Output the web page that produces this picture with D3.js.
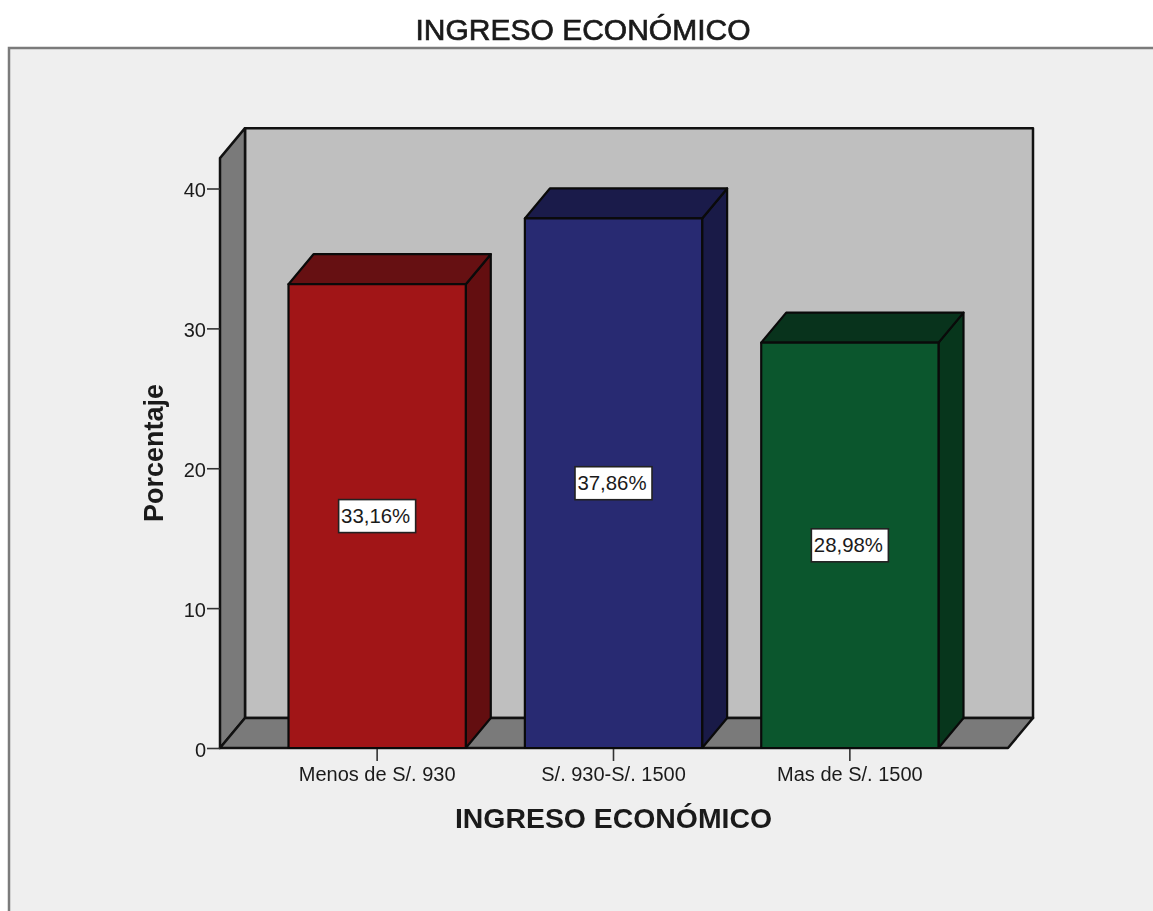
<!DOCTYPE html>
<html>
<head>
<meta charset="utf-8">
<script src="https://cdn.jsdelivr.net/npm/d3@7"></script>
<style>
  html, body { margin: 0; padding: 0; background: #fff; overflow: hidden; }
  svg { display: block; filter: blur(0.45px); }
  text { font-family: "Liberation Sans", Arial, sans-serif; fill: #1a1a1a; }
</style>
</head>
<body>
<svg id="chart" width="1153" height="911"></svg>
<script>
// Values
var categories = ['Menos de S/. 930', 'S/. 930-S/. 1500', 'Mas de S/. 1500'];
var percentages = [33.16, 37.86, 28.98];
var frontColors = ['#a11517', '#282a72', '#0b562d'];
var sideColors = ['#630e10', '#191a47', '#07361c'];
var topColors = ['#661012', '#1a1b4a', '#08331c'];
var yTicks = [0, 10, 20, 30, 40];
var yWallTop = 42.17;

var svg = d3.select('#chart');
var depth = {x: 25, y: -30};

var x = d3.scaleBand().domain(categories).range([288.5, 938.5]).paddingInner(0.25).paddingOuter(0);
var y = d3.scaleLinear().domain([0, 40]).range([748, 188.5]);
var x0 = 220, x1 = 1008;

var line = d3.line();

// Panel
svg.append('rect')
  .attr('x', 9).attr('y', 48)
  .attr('width', 1160).attr('height', 880)
  .attr('fill', '#efefef')
  .attr('stroke', '#7b7b7b')
  .attr('stroke-width', 2.5);

// Titles
svg.append('text')
  .attr('x', 583).attr('y', 39.5)
  .attr('text-anchor', 'middle')
  .attr('font-size', 30)
  .attr('stroke', '#1a1a1a').attr('stroke-width', 0.7)
  .text('INGRESO ECONÓMICO');

svg.append('text')
  .attr('x', 613.5).attr('y', 828)
  .attr('text-anchor', 'middle')
  .attr('font-size', 28.4)
  .attr('font-weight', 'bold')
  .text('INGRESO ECONÓMICO');

svg.append('text')
  .attr('transform', 'translate(162.5,453) rotate(-90)')
  .attr('text-anchor', 'middle')
  .attr('font-size', 27)
  .attr('font-weight', 'bold')
  .text('Porcentaje');

// Walls and floor
function wall(points, fill) {
  svg.append('path')
    .attr('d', line(points) + 'Z')
    .attr('fill', fill)
    .attr('stroke', '#111')
    .attr('stroke-width', 2.5)
    .attr('stroke-linejoin', 'round');
}

var yB = y(0), yT = y(yWallTop);
wall([[x0 + depth.x, yB + depth.y], [x1 + depth.x, yB + depth.y], [x1 + depth.x, yT + depth.y], [x0 + depth.x, yT + depth.y]], '#bfbfbf');
wall([[x0, yB], [x0 + depth.x, yB + depth.y], [x0 + depth.x, yT + depth.y], [x0, yT]], '#7a7a7a');
wall([[x0, yB], [x1, yB], [x1 + depth.x, yB + depth.y], [x0 + depth.x, yB + depth.y]], '#7a7a7a');

// Axes
var yAxis = d3.axisLeft(y).tickValues(yTicks).tickSize(13).tickPadding(1).tickSizeOuter(0);
var gy = svg.append('g').attr('transform', 'translate(' + x0 + ',0)').call(yAxis);
gy.select('.domain').remove();
gy.selectAll('line').attr('stroke', '#333').attr('stroke-width', 1.6);
gy.selectAll('text').attr('font-size', 20).attr('y', 2).style('font-family', '"Liberation Sans", Arial, sans-serif').attr('fill', '#1a1a1a');

var xAxis = d3.axisBottom(x).tickSize(13).tickPadding(6).tickSizeOuter(0);
var gx = svg.append('g').attr('transform', 'translate(0,' + yB + ')').call(xAxis);
gx.select('.domain').remove();
gx.selectAll('line').attr('stroke', '#333').attr('stroke-width', 1.6);
gx.selectAll('text').attr('font-size', 20).style('font-family', '"Liberation Sans", Arial, sans-serif').attr('fill', '#1a1a1a');

// 3D bars
var bars = svg.selectAll('.bar')
  .data(categories.map(function(c, i) { return {cat: c, value: percentages[i], i: i}; }))
  .enter().append('g')
  .attr('class', 'bar')
  .attr('stroke', '#0a0a0a')
  .attr('stroke-width', 2.2)
  .attr('stroke-linejoin', 'round');

bars.append('path')
  .attr('fill', function(d) { return sideColors[d.i]; })
  .attr('d', function(d) {
    var r = x(d.cat) + x.bandwidth(), t = y(d.value);
    return line([[r, yB], [r + depth.x, yB + depth.y], [r + depth.x, t + depth.y], [r, t]]) + 'Z';
  });

bars.append('path')
  .attr('fill', function(d) { return topColors[d.i]; })
  .attr('d', function(d) {
    var l = x(d.cat), r = l + x.bandwidth(), t = y(d.value);
    return line([[l, t], [r, t], [r + depth.x, t + depth.y], [l + depth.x, t + depth.y]]) + 'Z';
  });

bars.append('rect')
  .attr('fill', function(d) { return frontColors[d.i]; })
  .attr('x', function(d) { return x(d.cat); })
  .attr('y', function(d) { return y(d.value); })
  .attr('width', x.bandwidth())
  .attr('height', function(d) { return yB - y(d.value); });

// Data labels
var boxW = 77, boxH = 33;
var labels = svg.selectAll('.label')
  .data(categories.map(function(c, i) { return {cat: c, value: percentages[i]}; }))
  .enter().append('g')
  .attr('class', 'label')
  .attr('transform', function(d) {
    return 'translate(' + (x(d.cat) + x.bandwidth() / 2) + ',' + y(d.value / 2) + ')';
  });

labels.append('rect')
  .attr('x', -boxW / 2).attr('y', -boxH / 2)
  .attr('width', boxW).attr('height', boxH)
  .attr('fill', '#fff')
  .attr('stroke', '#222')
  .attr('stroke-width', 1.6);

labels.append('text')
  .attr('x', -1.5)
  .attr('text-anchor', 'middle')
  .attr('dy', '0.35em')
  .attr('font-size', 20.4)
  .text(function(d) { return d.value.toFixed(2).replace('.', ',') + '%'; });
</script>
</body>
</html>
